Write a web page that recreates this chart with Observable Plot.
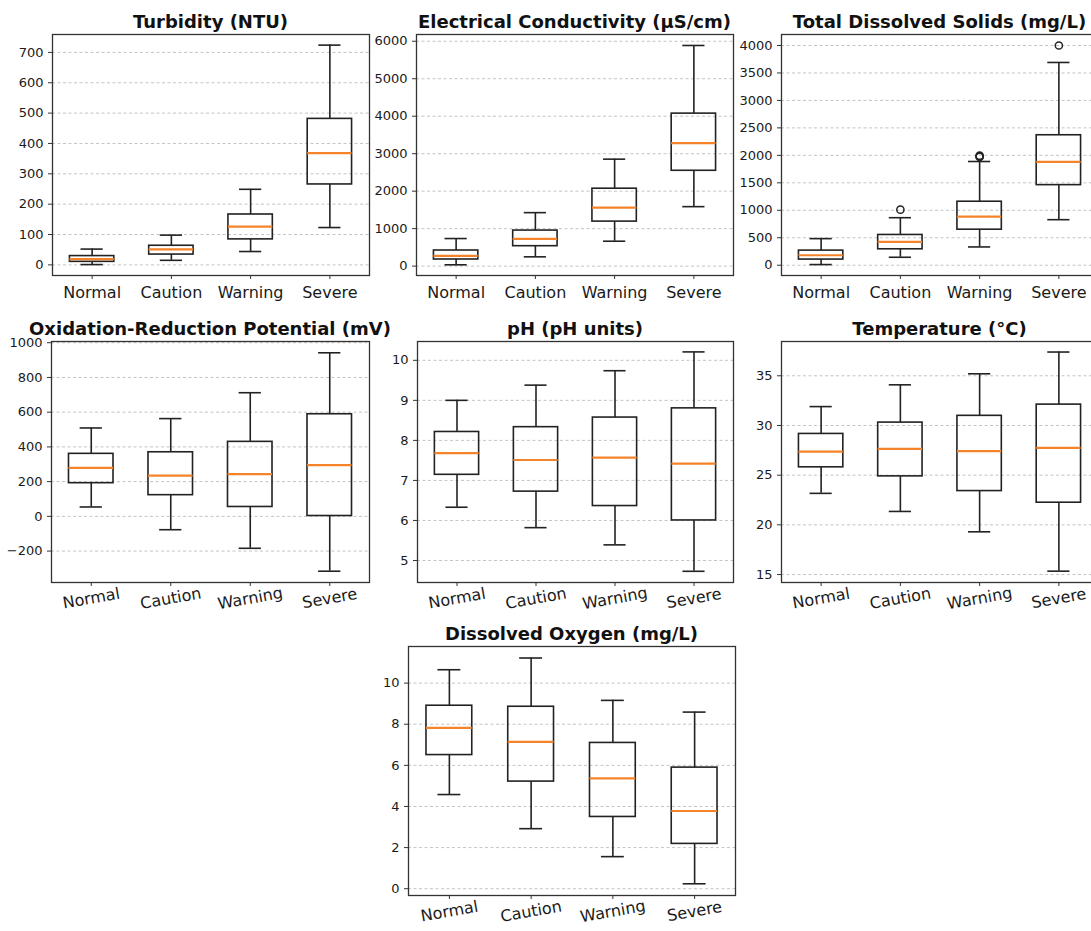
<!DOCTYPE html>
<html><head><meta charset="utf-8">
<script src="https://cdn.jsdelivr.net/npm/d3@7"></script>
<script src="https://cdn.jsdelivr.net/npm/@observablehq/plot@0.6"></script>
<style>
body{margin:0;background:#fff;}
#wrap{position:relative;width:1091px;height:931px;overflow:hidden;background:#fff;font-family:"DejaVu Sans",sans-serif;}
.panel{position:absolute;}
.title{position:absolute;font-weight:bold;font-size:18px;color:#111;white-space:nowrap;transform:translateX(-50%);line-height:1;font-family:"DejaVu Sans",sans-serif;}
</style></head>
<body><div id="wrap"></div>
<script>
const categories = ["Normal", "Caution", "Warning", "Severe"];

// five-number summaries per category: [min whisker, Q1, median, Q3, max whisker]
const turbidity    = [[1, 10, 19, 29, 52], [15, 34, 51, 63, 98], [44, 84, 126, 166, 249], [123, 265, 368, 481, 724]];
const conductivity = [[35, 177, 275, 417, 736], [248, 532, 727, 949, 1427], [665, 1188, 1560, 2066, 2854], [1587, 2544, 3280, 4069, 5887]];
const tds          = [[12, 103, 182, 266, 484], [145, 290, 424, 551, 865], [333, 647, 884, 1156, 1888], [829, 1458, 1882, 2366, 3691]];
const orp          = [[54, 191, 279, 360, 509], [-77, 122, 235, 369, 563], [-184, 54, 243, 429, 712], [-316, 2, 295, 588, 942]];
const ph           = [[6.33, 7.14, 7.68, 8.21, 9.0], [5.82, 6.72, 7.51, 8.33, 9.38], [5.39, 6.36, 7.57, 8.57, 9.74], [4.73, 6.0, 7.42, 8.80, 10.21]];
const temperature  = [[23.17, 25.79, 27.37, 29.15, 31.9], [21.35, 24.88, 27.64, 30.29, 34.09], [19.3, 23.4, 27.41, 30.97, 35.2], [15.34, 22.23, 27.74, 32.1, 37.39]];
const oxygen       = [[4.58, 6.5, 7.82, 8.9, 10.65], [2.92, 5.21, 7.14, 8.85, 11.22], [1.56, 3.49, 5.37, 7.09, 9.16], [0.24, 2.18, 3.78, 5.89, 8.59]];

// outliers: [category, value]
const tdsOutliers = [["Caution", 1011], ["Warning", 1972], ["Warning", 1984], ["Warning", 1994], ["Severe", 4000]];

// y tick values per panel
const turbidityTicks = [0, 100, 200, 300, 400, 500, 600, 700];
const conductivityTicks = [0, 1000, 2000, 3000, 4000, 5000, 6000];
const tdsTicks = [0, 500, 1000, 1500, 2000, 2500, 3000, 3500, 4000];
const orpTicks = [-200, 0, 200, 400, 600, 800, 1000];
const phTicks = [5, 6, 7, 8, 9, 10];
const temperatureTicks = [15, 20, 25, 30, 35];
const oxygenTicks = [0, 2, 4, 6, 8, 10];

const panels = [
  {title: "Turbidity (NTU)", stats: turbidity, ticks: turbidityTicks, domain: [-35, 759], frame: [52, 34, 317, 241], rot: 0, tb: 28},
  {title: "Electrical Conductivity (µS/cm)", stats: conductivity, ticks: conductivityTicks, domain: [-250, 6180], frame: [416, 34, 317, 241], rot: 0, tb: 28},
  {title: "Total Dissolved Solids (mg/L)", stats: tds, outliers: tdsOutliers, ticks: tdsTicks, domain: [-187, 4200], frame: [781, 34, 317, 241], rot: 0, tb: 28},
  {title: "Oxidation-Reduction Potential (mV)", stats: orp, ticks: orpTicks, domain: [-381, 1007], frame: [51, 341, 318, 241], rot: -10, tb: 335},
  {title: "pH (pH units)", stats: ph, ticks: phTicks, domain: [4.45, 10.47], frame: [417, 341, 316, 241], rot: -10, tb: 335},
  {title: "Temperature (°C)", stats: temperature, ticks: temperatureTicks, domain: [14.2, 38.45], frame: [781, 341, 317, 241], rot: -10, tb: 335},
  {title: "Dissolved Oxygen (mg/L)", stats: oxygen, ticks: oxygenTicks, domain: [-0.33, 11.78], frame: [408, 646, 327, 249], rot: -10, tb: 640}
];

const wrap = document.getElementById("wrap");
const fmt = d => d < 0 ? "\u2212" + Math.abs(d) : String(d);
const HALF = 0.28, CAP = 0.14;

for (const p of panels) {
  const [L, T, W, H] = p.frame;
  const mL = 60, mR = 12, mT = 12, mB = 60;
  const rows = p.stats.map((s, i) => ({cat: categories[i], pos: i + 1, min: s[0], q1: s[1], med: s[2], q3: s[3], max: s[4]}));
  const outl = (p.outliers || []).map(([c, v]) => ({pos: categories.indexOf(c) + 1, v}));
  const chart = Plot.plot({
    width: mL + W + mR,
    height: mT + H + mB,
    marginLeft: mL, marginRight: mR, marginTop: mT, marginBottom: mB,
    style: {fontFamily: "DejaVu Sans, sans-serif", color: "#1a1a1a", background: "transparent", overflow: "visible"},
    x: {domain: [0.5, 4.5], label: null},
    y: {domain: p.domain, label: null},
    marks: [
      Plot.ruleY(p.ticks, {stroke: "#c4c4c4", strokeWidth: 1, strokeDasharray: "3,2.5"}),
      Plot.ruleX(rows, {x: "pos", y1: "q3", y2: "max", stroke: "#222", strokeWidth: 1.6}),
      Plot.ruleX(rows, {x: "pos", y1: "min", y2: "q1", stroke: "#222", strokeWidth: 1.6}),
      Plot.ruleY(rows, {y: "max", x1: d => d.pos - CAP, x2: d => d.pos + CAP, stroke: "#222", strokeWidth: 1.6}),
      Plot.ruleY(rows, {y: "min", x1: d => d.pos - CAP, x2: d => d.pos + CAP, stroke: "#222", strokeWidth: 1.6}),
      Plot.rect(rows, {x1: d => d.pos - HALF, x2: d => d.pos + HALF, y1: "q1", y2: "q3", fill: "none", stroke: "#222", strokeWidth: 1.6}),
      Plot.ruleY(rows, {y: "med", x1: d => d.pos - HALF, x2: d => d.pos + HALF, stroke: "#f5832a", strokeWidth: 2.2}),
      Plot.dot(outl, {x: "pos", y: "v", r: 3.6, stroke: "#222", strokeWidth: 1.5, fill: "none"}),
      Plot.frame({stroke: "#333", strokeWidth: 1.3}),
      Plot.axisX({ticks: [1, 2, 3, 4], tickFormat: i => categories[i - 1], fontSize: 16, tickSize: 4, tickPadding: p.rot ? 12 : 7, tickRotate: p.rot, textAnchor: "middle", stroke: "#333", fill: "#1a1a1a", label: null}),
      Plot.axisY({ticks: p.ticks, tickFormat: fmt, fontSize: 13, tickSize: 4, tickPadding: 5, stroke: "#333", fill: "#1a1a1a", label: null})
    ]
  });
  chart.classList.add("panel");
  chart.style.left = (L - mL) + "px";
  chart.style.top = (T - mT) + "px";
  wrap.appendChild(chart);
  const t = document.createElement("div");
  t.className = "title";
  t.textContent = p.title;
  t.style.left = (L + W / 2) + "px";
  t.style.top = (p.tb - 15) + "px";
  wrap.appendChild(t);
}
</script>
</body></html>
